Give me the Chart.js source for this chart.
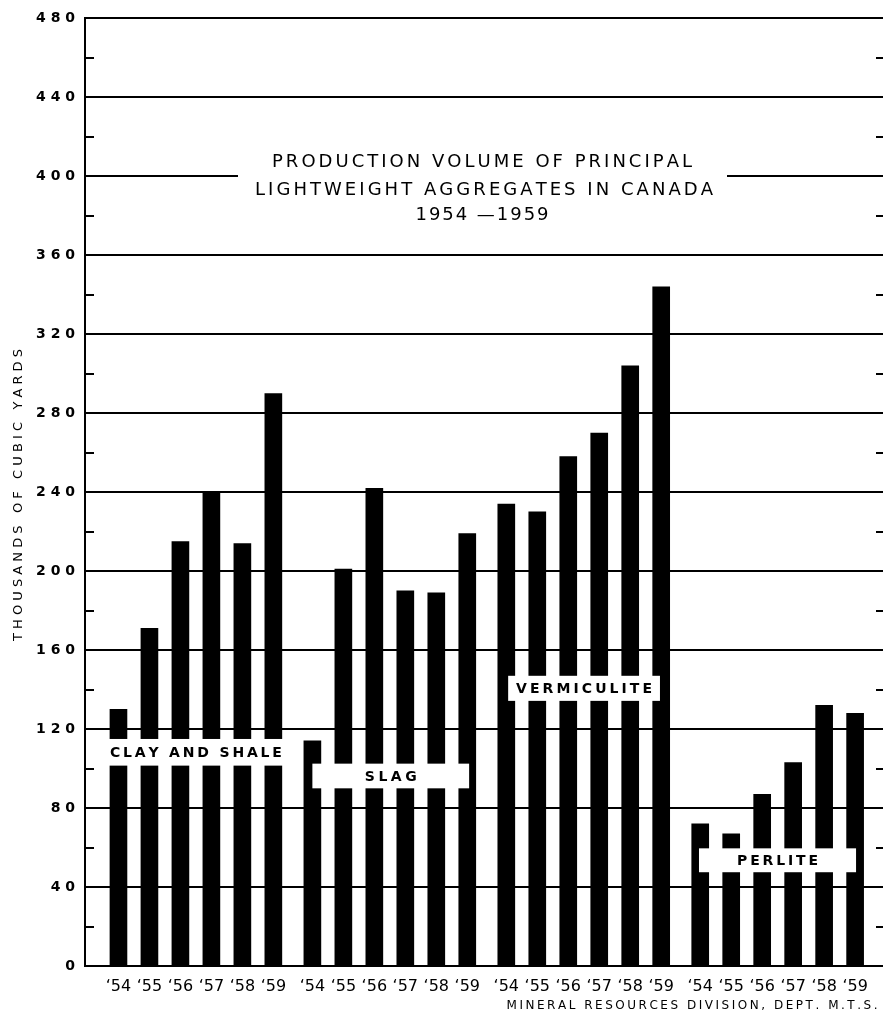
<!DOCTYPE html>
<html>
<head>
<meta charset="utf-8">
<title>Lightweight aggregates in Canada, 1954-1959</title>
<script src="https://cdn.jsdelivr.net/npm/chart.js@4.4.1/dist/chart.umd.min.js"></script>
<style>
  html, body { margin: 0; padding: 0; background: #fff; }
  canvas { display: block; }
</style>
</head>
<body>
<canvas id="chart" width="883" height="1015"></canvas>
<script>
// thousands of cubic yards, 1954..1959
const years = ['54', '55', '56', '57', '58', '59'];
const groups = ['CLAY AND SHALE', 'SLAG', 'VERMICULITE', 'PERLITE'];
const clayShale = [130, 171, 215, 240, 214, 290];
const slag = [114, 201, 242, 190, 189, 219];
const vermiculite = [234, 230, 258, 270, 304, 344];
const perlite = [72, 67, 87, 103, 132, 128];
const series = [clayShale, slag, vermiculite, perlite];

// one bar per year, a wider gap between materials
const GROUP_STEP = 6.26;
const points = [];
series.forEach((vals, g) => {
    vals.forEach((v, i) => points.push({ x: g * GROUP_STEP + i, y: v }));
});

// white label strips cut across each group (x in bar units from the group's first bar, y in data units)
const strips = [
    { from: -0.6, to: 5.6, lo: 101.5, hi: 115, width: 172 },
    { from: 0, to: 5.06, lo: 90, hi: 102.5, width: 52 },
    { from: 0.06, to: 4.96, lo: 134.3, hi: 147, width: 136 },
    { from: -0.04, to: 5.03, lo: 47.5, hi: 59.6, width: 81 }
];

const FONT = '"DejaVu Sans", "Liberation Sans", sans-serif';

// draws text spread out to a given width, centred on cx
function spaced(ctx, text, cx, cy, width) {
    const chars = [...text];
    const widths = chars.map(c => ctx.measureText(c).width);
    const natural = widths.reduce((a, b) => a + b, 0);
    const gap = chars.length > 1 ? (width - natural) / (chars.length - 1) : 0;
    let x = cx - width / 2;
    ctx.textAlign = 'left';
    ctx.textBaseline = 'middle';
    chars.forEach((c, i) => {
        ctx.fillText(c, x, cy);
        x += widths[i] + gap;
    });
}

const decorations = {
    id: 'decorations',
    afterDatasetsDraw(chart) {
        const { ctx, scales: { x, y } } = chart;
        ctx.save();
        strips.forEach((s, g) => {
            const x0 = x.getPixelForValue(g * GROUP_STEP + s.from);
            const x1 = x.getPixelForValue(g * GROUP_STEP + s.to);
            const y0 = y.getPixelForValue(s.hi);
            const y1 = y.getPixelForValue(s.lo);
            ctx.fillStyle = '#fff';
            ctx.fillRect(x0, y0, x1 - x0, y1 - y0);
            ctx.fillStyle = '#000';
            ctx.font = 'bold 14px ' + FONT;
            spaced(ctx, groups[g], (x0 + x1) / 2, (y0 + y1) / 2 + 1, s.width);
        });
        ctx.restore();
    },
    afterDraw(chart) {
        const { ctx, chartArea: area, scales: { y } } = chart;
        ctx.save();

        // small ticks halfway between the grid lines, on both sides
        ctx.strokeStyle = '#000';
        ctx.lineWidth = 2;
        for (let v = 20; v < 480; v += 40) {
            const py = Math.round(y.getPixelForValue(v));
            ctx.beginPath();
            ctx.moveTo(area.left, py);
            ctx.lineTo(area.left + 9, py);
            ctx.moveTo(area.right - 7, py);
            ctx.lineTo(area.right, py);
            ctx.stroke();
        }

        // title, set on a white panel over the grid
        ctx.fillStyle = '#fff';
        ctx.fillRect(238, 146, 489, 84);
        ctx.fillStyle = '#000';
        ctx.font = '18px ' + FONT;
        spaced(ctx, 'PRODUCTION VOLUME OF PRINCIPAL', 482, 162, 420);
        spaced(ctx, 'LIGHTWEIGHT AGGREGATES IN CANADA', 484, 190, 458);
        spaced(ctx, '1954 \u20141959', 482, 215, 133);

        // source line
        ctx.font = '12px ' + FONT;
        spaced(ctx, 'MINERAL RESOURCES DIVISION, DEPT. M.T.S.', 692, 1006, 371);

        // y axis title
        ctx.translate(19, 495);
        ctx.rotate(-Math.PI / 2);
        ctx.font = '13px ' + FONT;
        spaced(ctx, 'THOUSANDS OF CUBIC YARDS', 0, 0, 292);

        ctx.restore();
    }
};

new Chart(document.getElementById('chart'), {
    type: 'bar',
    data: {
        datasets: [{
            data: points,
            backgroundColor: '#000',
            borderWidth: 0,
            barThickness: 17
        }]
    },
    options: {
        responsive: false,
        animation: false,
        layout: { padding: { top: 15, right: 0, bottom: 0, left: 0 } },
        plugins: {
            legend: { display: false },
            tooltip: { enabled: false }
        },
        scales: {
            x: {
                type: 'linear',
                min: -1.08,
                max: 24.68,
                offset: false,
                grid: { display: false },
                border: { display: false },
                afterBuildTicks: scale => {
                    scale.ticks = points.map(p => ({ value: p.x }));
                },
                afterFit: scale => { scale.height = 49; },
                ticks: {
                    autoSkip: false,
                    maxRotation: 0,
                    padding: 3,
                    color: '#000',
                    font: { family: FONT, size: 16 },
                    callback: (v, i) => '\u2018' + years[i % years.length]
                }
            },
            y: {
                min: 0,
                max: 480,
                grid: { color: '#000', lineWidth: 2, drawTicks: false },
                border: { color: '#000', width: 2 },
                afterFit: scale => { scale.width = 85; },
                ticks: {
                    stepSize: 40,
                    padding: 10,
                    color: '#000',
                    font: { family: FONT, size: 14, weight: 'bold' },
                    callback: v => String(v).split('').join(' ')
                }
            }
        }
    },
    plugins: [decorations]
});
</script>
</body>
</html>
